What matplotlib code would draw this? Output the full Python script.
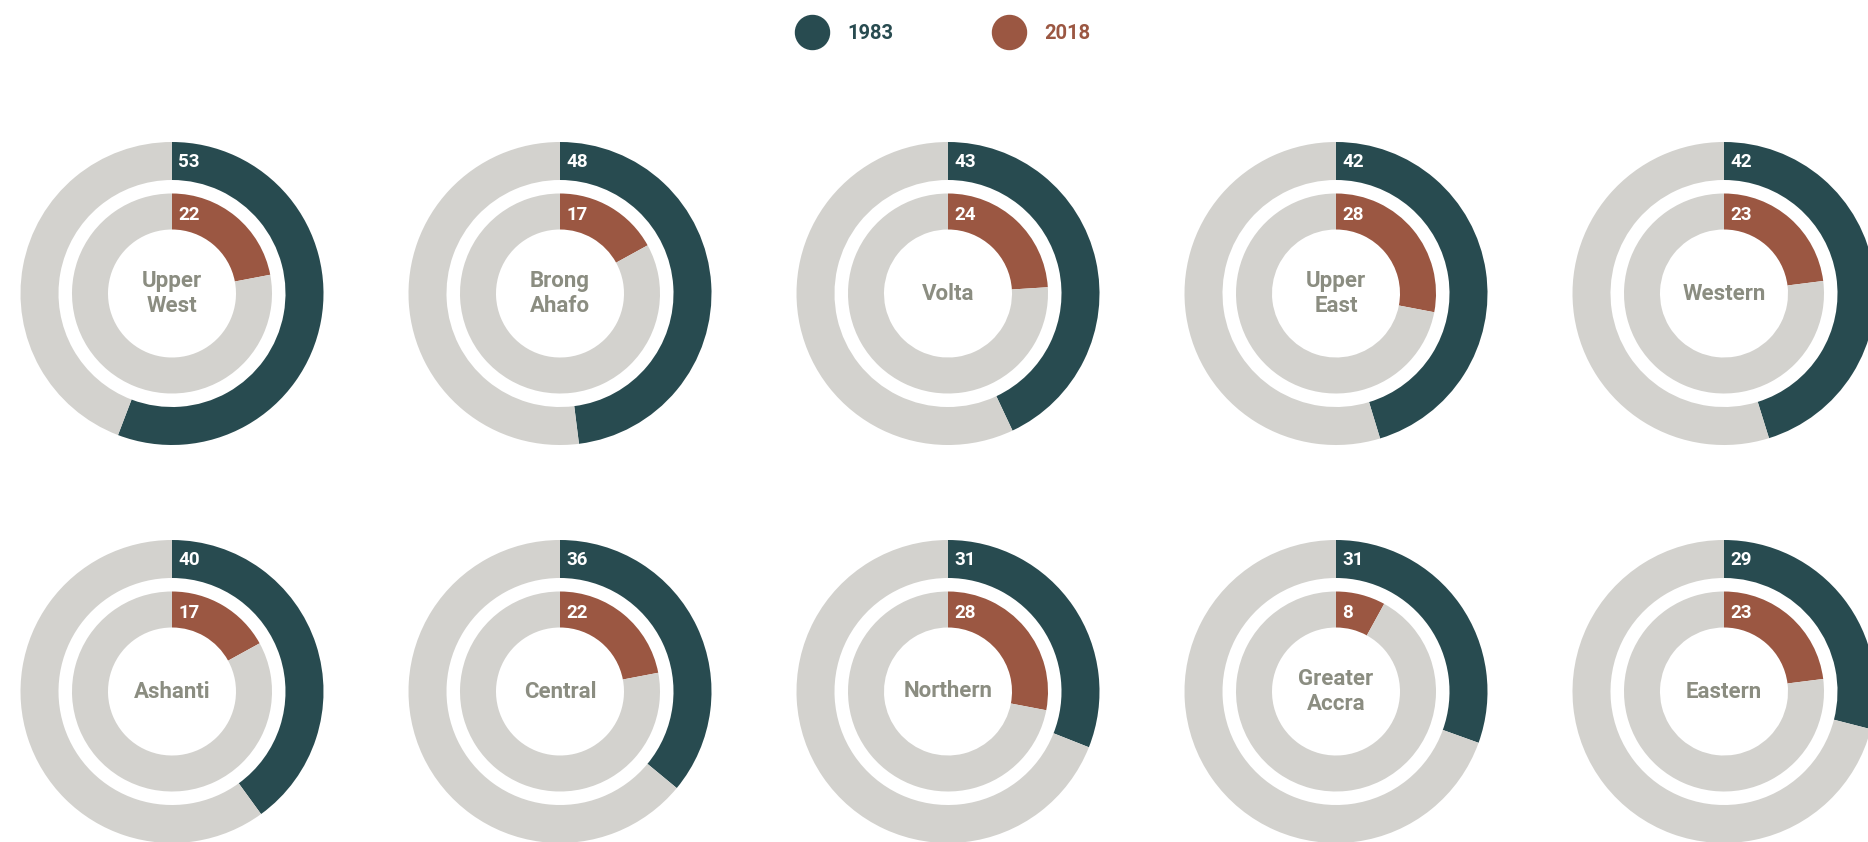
import matplotlib
matplotlib.use("Agg")
import matplotlib.pyplot as plt
from matplotlib.lines import Line2D

plt.rcParams['font.family'] = ['Roboto', 'DejaVu Sans']

regions = ["Upper\nWest", "Brong\nAhafo", "Volta", "Upper\nEast", "Western",
           "Ashanti", "Central", "Northern", "Greater\nAccra", "Eastern"]
# printed labels
vals_1983 = [53, 48, 43, 42, 42, 40, 36, 31, 31, 29]
vals_2018 = [22, 17, 24, 28, 23, 17, 22, 28, 8, 23]
# arc lengths as drawn in the reference (percent of the full ring)
arc_1983 = [55.8, 48, 43, 45.3, 45.2, 40, 36, 31, 30.5, 29]
arc_2018 = [22, 17, 24, 28, 23, 17, 22, 28, 8, 23]
years = ["1983", "2018"]

C_DARK = "#284B50"
C_RUST = "#9B5742"
C_GRAY = "#D3D2CE"
C_LABEL = "#8B8D81"

W, H = 1868, 842
fig = plt.figure(figsize=(W / 100, H / 100), dpi=100)
fig.patch.set_facecolor("white")

R = 151.5           # outer radius in px
col_x = [172 + i * 388 for i in range(5)]
row_y = [293.5, 691.5]

for i, name in enumerate(regions):
    cx = col_x[i % 5]
    cy = row_y[i // 5]
    ax = fig.add_axes([(cx - R) / W, 1 - (cy + R) / H, 2 * R / W, 2 * R / H])
    ax.axis("off")
    a = arc_1983[i]
    b = arc_2018[i]
    ax.pie([a, 100 - a], radius=1.0, startangle=90, counterclock=False,
           colors=[C_DARK, C_GRAY], wedgeprops=dict(width=38 / R, linewidth=0))
    ax.pie([b, 100 - b], radius=100 / R, startangle=90, counterclock=False,
           colors=[C_RUST, C_GRAY], wedgeprops=dict(width=36 / R, linewidth=0))
    ax.set_xlim(-1, 1)
    ax.set_ylim(-1, 1)
    ax.set_aspect("equal")
    ax.text(0.04, 0.865, str(vals_1983[i]), color="white", fontsize=13.5,
            fontweight="bold", ha="left", va="center")
    ax.text(0.04, 0.52, str(vals_2018[i]), color="white", fontsize=13.5,
            fontweight="bold", ha="left", va="center")
    ax.text(0, 0, name, color=C_LABEL, fontsize=16, fontweight="bold",
            ha="center", va="center", linespacing=1.2)

handles = [Line2D([], [], marker="o", linestyle="none", markersize=24.5,
                  markerfacecolor=c, markeredgecolor=c) for c in (C_DARK, C_RUST)]
leg = fig.legend(handles, years, loc="center", bbox_to_anchor=(943 / W, 1 - 33.5 / H),
                 ncol=2, frameon=False, prop=dict(size=14.5, weight="bold"),
                 handlelength=1.7, handletextpad=0.9, columnspacing=4.9,
                 borderpad=0, borderaxespad=0)
for t, c in zip(leg.get_texts(), (C_DARK, C_RUST)):
    t.set_color(c)

fig.savefig("out.png", dpi=100, facecolor="white")
